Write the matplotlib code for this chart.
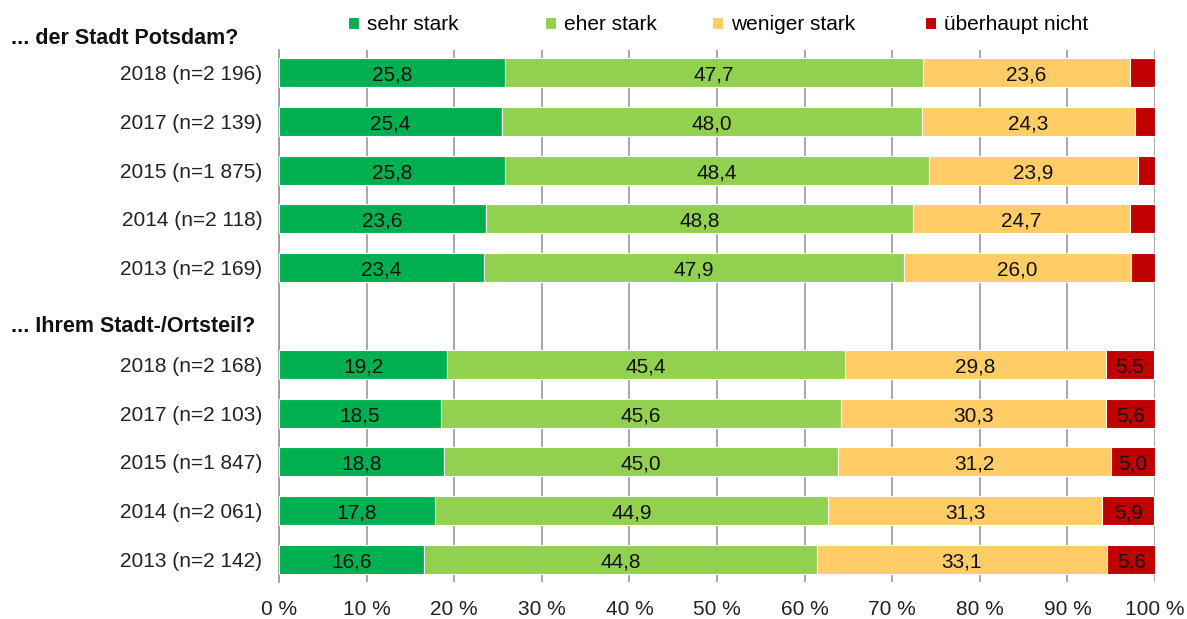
import numpy as np
import matplotlib
matplotlib.use("Agg")
from matplotlib import pyplot as plt

plt.rcParams['font.family'] = ['Liberation Sans', 'DejaVu Sans']

categories = ['sehr stark', 'eher stark', 'weniger stark', 'überhaupt nicht']
colors = ['#00B050', '#92D050', '#FFCC66', '#C00000']

labels_city = ['2018 (n=2 196)', '2017 (n=2 139)', '2015 (n=1 875)', '2014 (n=2 118)', '2013 (n=2 169)']
labels_district = ['2018 (n=2 168)', '2017 (n=2 103)', '2015 (n=1 847)', '2014 (n=2 061)', '2013 (n=2 142)']

sehr_stark = [25.8, 25.4, 25.8, 23.6, 23.4, 19.2, 18.5, 18.8, 17.8, 16.6]
eher_stark = [47.7, 48.0, 48.4, 48.8, 47.9, 45.4, 45.6, 45.0, 44.9, 44.8]
weniger_stark = [23.6, 24.3, 23.9, 24.7, 26.0, 29.8, 30.3, 31.2, 31.3, 33.1]
ueberhaupt_nicht = [2.9, 2.3, 1.9, 2.9, 2.7, 5.5, 5.6, 5.0, 5.9, 5.6]

series = [sehr_stark, eher_stark, weniger_stark, ueberhaupt_nicht]

# row positions, one empty slot between the two groups
ypos = np.array([0, 1, 2, 3, 4, 6, 7, 8, 9, 10])

fig = plt.figure(figsize=(11.87, 6.19), dpi=100)
ax = fig.add_axes([279/1187, 1 - 582/619, (1155-279)/1187, 532/619])

handles = []
left = np.zeros(len(ypos))
for vals, col, name in zip(series, colors, categories):
    vals = np.array(vals)
    bars = ax.barh(ypos, vals, left=left, height=0.6, color=col,
                   edgecolor='white', linewidth=0.8, label=name, zorder=3)
    handles.append(bars)
    for y, v, l in zip(ypos, vals, left):
        if v >= 4.5:
            ax.text(l + v/2, y + 0.05, f"{v:.1f}".replace('.', ','),
                    ha='center', va='center', fontsize=15, color='#111111', zorder=4)
    left += vals

ax.set_xlim(0, 100)
ax.set_ylim(10.47, -0.47)
ax.set_xticks(np.arange(0, 101, 10))
ax.set_xticklabels([f"{t} %" for t in range(0, 101, 10)], fontsize=15, color='#222222')
ax.set_yticks(ypos)
ax.set_yticklabels(labels_city + labels_district, fontsize=15, color='#222222')
ax.tick_params(axis='both', length=0)
ax.tick_params(axis='x', pad=13)
ax.tick_params(axis='y', pad=12)
ax.grid(axis='x', color='#9a9a9a', linewidth=1.2, zorder=0)
for s in ['top', 'right', 'bottom']:
    ax.spines[s].set_visible(False)
ax.spines['left'].set_color('#9a9a9a')
ax.spines['left'].set_linewidth(1.2)

fig.text(11/1187, 1 - 38/619, '... der Stadt Potsdam?', fontsize=15.5, fontweight='bold',
         ha='left', va='center', color='#111111')
fig.text(11/1187, 1 - 327/619, '... Ihrem Stadt-/Ortsteil?', fontsize=15.5, fontweight='bold',
         ha='left', va='center', color='#111111')

# legend entries sit at uneven spacing in the original
legend_x = [348, 545, 712, 925]
for h, name, lx in zip(handles, categories, legend_x):
    leg = fig.legend([h], [name], loc='center left', bbox_to_anchor=(lx/1187, 1 - 25/619),
                     frameon=False, fontsize=15, handlelength=0.55, handleheight=0.55,
                     handletextpad=0.35, borderpad=0, borderaxespad=0)

fig.savefig('out.png', dpi=100)
